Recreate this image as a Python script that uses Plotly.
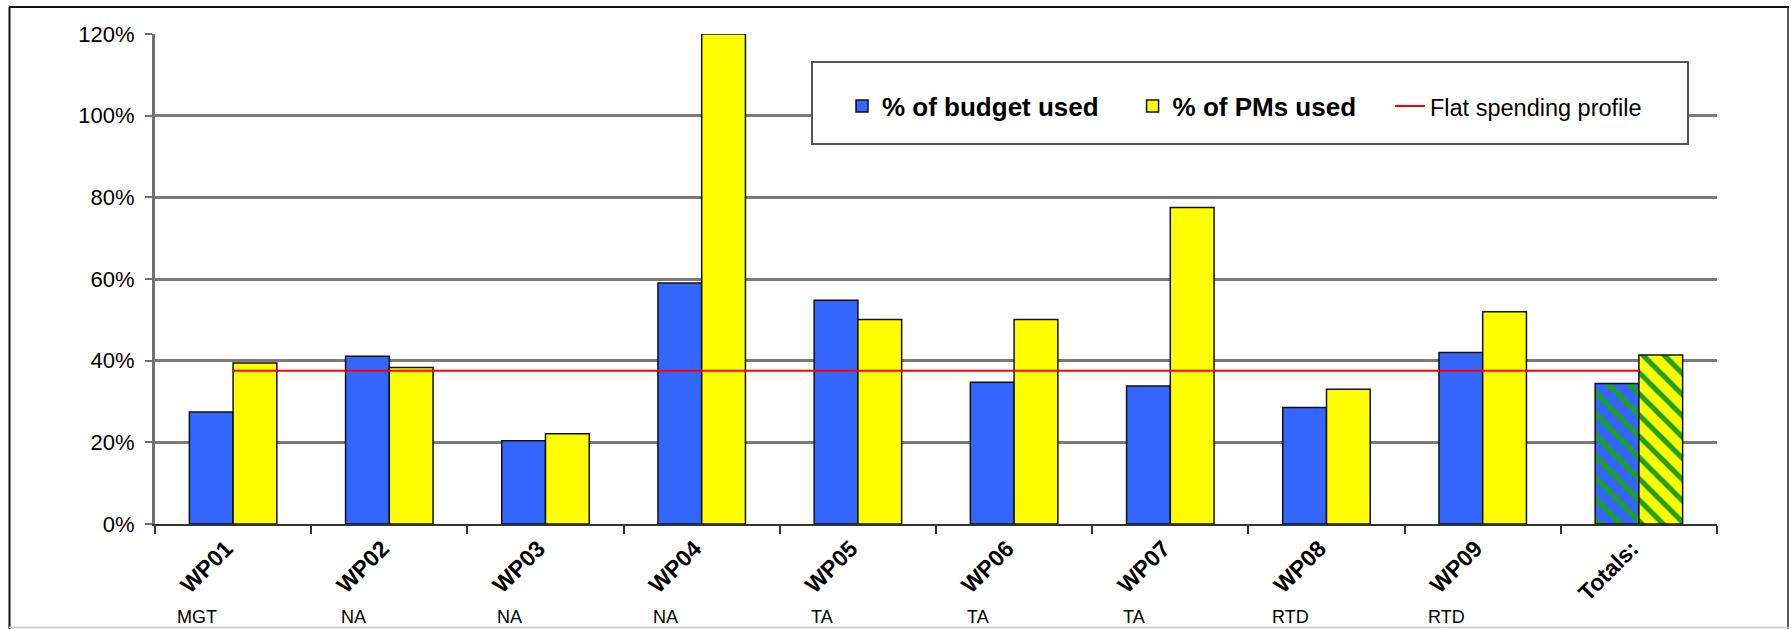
import plotly.graph_objects as go

# ---- data ----
categories = ["WP01", "WP02", "WP03", "WP04", "WP05", "WP06", "WP07", "WP08", "WP09", "Totals:"]
sub_labels = ["MGT", "NA", "NA", "NA", "TA", "TA", "TA", "RTD", "RTD", ""]
budget_used = [27.4, 41.1, 20.4, 59.0, 54.8, 34.7, 33.8, 28.5, 42.0, 34.4]
pms_used = [39.4, 38.3, 22.1, 120.0, 50.1, 50.1, 77.5, 33.0, 52.0, 41.4]
flat_profile = [37.5] * len(categories)
y_ticks = [0, 20, 40, 60, 80, 100, 120]
y_tick_labels = ["0%", "20%", "40%", "60%", "80%", "100%", "120%"]

# ---- layout geometry (pixels) ----
W, H = 1791, 629
ML, MR, MT, MB = 155, 74, 34, 105
PW, PH = W - ML - MR, H - MT - MB


def px(x):
    return (x - ML) / PW


def py(y):
    return (H - MB - y) / PH


FONT = "Arial, Liberation Sans, sans-serif"
BLUE = "#3366FF"
YELLOW = "#FFFF00"
GREEN = "#1FA01F"

is_total = [c.startswith("Totals") for c in categories]

fig = go.Figure()
fig.add_trace(go.Bar(
    x=categories, y=budget_used,
    name="<b>% of budget used</b>" + "\u00a0" * 4,
    marker=dict(
        color=BLUE,
        line=dict(color="#111111", width=1.5),
        pattern=dict(
            shape=["\\" if t else "" for t in is_total],
            fgcolor=GREEN, bgcolor=BLUE, size=15, solidity=0.35,
            fillmode="replace",
        ),
    ),
))
fig.add_trace(go.Bar(
    x=categories, y=pms_used,
    name="<b>% of PMs used</b>" + "\u00a0" * 4,
    marker=dict(
        color=YELLOW,
        line=dict(color="#111111", width=1.5),
        pattern=dict(
            shape=["\\" if t else "" for t in is_total],
            fgcolor=GREEN, bgcolor=YELLOW, size=15, solidity=0.35,
            fillmode="replace",
        ),
    ),
))
fig.add_trace(go.Scatter(
    x=categories, y=flat_profile, mode="lines",
    name="<span style='font-size:23.5px'>Flat spending profile</span>",
    line=dict(color="#FF0000", width=2),
))

shapes = [
    # legend box (white, covers gridlines)
    dict(type="rect", xref="paper", yref="paper",
         x0=px(812), x1=px(1688), y0=py(144), y1=py(62),
         fillcolor="white", line=dict(color="#555555", width=2), layer="above"),
    # outer frame
    dict(type="line", xref="paper", yref="paper", x0=px(9), x1=px(1789), y0=py(7), y1=py(7),
         line=dict(color="#111111", width=2)),
    dict(type="line", xref="paper", yref="paper", x0=px(9.5), x1=px(9.5), y0=py(7), y1=py(629),
         line=dict(color="#111111", width=2)),
    dict(type="line", xref="paper", yref="paper", x0=px(1788), x1=px(1788), y0=py(7), y1=py(629),
         line=dict(color="#222222", width=1.5)),
    dict(type="line", xref="paper", yref="paper", x0=px(9), x1=px(1789), y0=py(627.5), y1=py(627.5),
         line=dict(color="#c8c8c8", width=1.5)),
]

annotations = []
for i, lab in enumerate(sub_labels):
    if lab:
        annotations.append(dict(
            x=i - 0.23, xref="x", y=py(617), yref="paper",
            text=lab, showarrow=False, xanchor="center", yanchor="middle",
            font=dict(family=FONT, size=18, color="black"),
        ))

fig.update_layout(
    width=W, height=H,
    margin=dict(l=ML, r=MR, t=MT, b=MB, pad=0),
    paper_bgcolor="white", plot_bgcolor="white",
    barmode="group", bargap=0.44, bargroupgap=0,
    font=dict(family=FONT, color="black"),
    showlegend=True,
    legend=dict(
        orientation="h", x=px(842), xanchor="left", y=py(106), yanchor="middle",
        bgcolor="rgba(0,0,0,0)", borderwidth=0,
        font=dict(family=FONT, size=26, color="black"),
        traceorder="normal",
    ),
    xaxis=dict(
        type="category", tickson="boundaries", ticks="outside", ticklen=8,
        tickwidth=2, tickcolor="#333333", showline=True, linecolor="#333333", linewidth=2,
        tickangle=-45, tickfont=dict(family=FONT, size=23, color="black", weight="bold"),
        ticklabelstandoff=0, ticklabelshift=-7, showgrid=False,
    ),
    yaxis=dict(
        range=[0, 120], tickvals=y_ticks, ticktext=y_tick_labels,
        showgrid=True, gridcolor="#7a7a7a", gridwidth=2.5,
        showline=True, linecolor="#707070", linewidth=3,
        ticks="outside", ticklen=7, tickwidth=2, tickcolor="#707070",
        tickfont=dict(family=FONT, size=22, color="black"),
        ticklabelstandoff=6, zeroline=False,
    ),
    shapes=shapes,
    annotations=annotations,
)

fig.write_html("out.html")
